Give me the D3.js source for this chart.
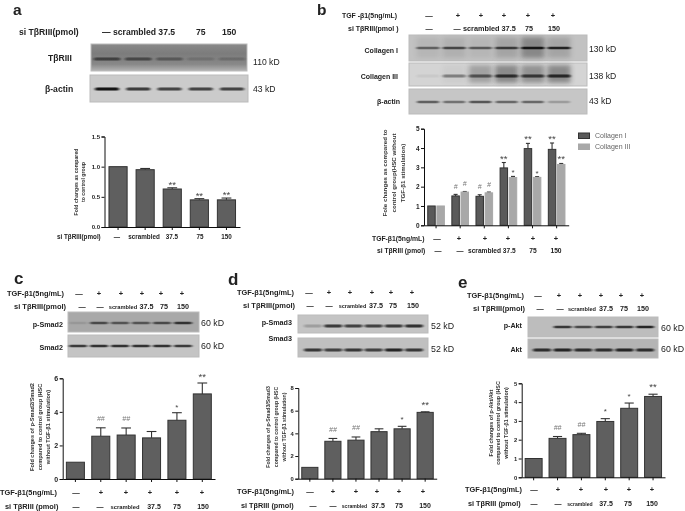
<!DOCTYPE html>
<html><head><meta charset="utf-8">
<script src="https://cdn.jsdelivr.net/npm/d3@7"></script>
<style>
html,body{margin:0;padding:0;background:#fff}
svg{display:block}
text{font-family:"Liberation Sans",Arial,sans-serif;fill:#222}
</style></head><body>
<svg id="c" width="685" height="511"></svg>
<script>
// ---------- data ----------
const groupsA = ["—","scrambled","37.5","75","150"];
const valuesA = [1,0.95,0.63,0.45,0.45];
const errorsA = [0,0.02,0.02,0.02,0.03];
const marksA  = ["","","**","**","**"];

const groupsSix = ["ctrl","tgf","scrambled","37.5","75","150"];
const collagenI   = [1,1.52,1.5,2.97,3.97,3.93];
const collagenIErr= [0,0.08,0.08,0.28,0.27,0.33];
const collagenIII = [1,1.72,1.68,2.47,2.48,3.15];
const collagenIIIErr=[0,0.03,0.04,0.06,0.04,0.05];
const marksCol1 = ["","#","#","**","**","**"];
const marksCol3 = ["","#","#","*","*","**"];

const valuesC = [1,2.55,2.62,2.45,3.5,5.07];
const errorsC = [0,0.5,0.42,0.38,0.45,0.65];
const marksC  = ["","##","##","","*","**"];

const valuesD = [1,3.3,3.4,4.15,4.4,5.85];
const errorsD = [0,0.25,0.28,0.25,0.22,0.05];
const marksD  = ["","##","##","","*","**"];

const valuesE = [1,2.07,2.27,2.97,3.67,4.3];
const errorsE = [0,0.1,0.07,0.15,0.28,0.12];
const marksE  = ["","##","##","*","*","**"];

const tgfMarks = ["—","+","+","+","+","+"];
const siMarks  = ["—","—","scrambled","37.5","75","150"];

// blot band strengths, lane by lane (0-1), and smear above the bands
const bandsTbr3   = [0.55,0.5,0.35,0.15,0.18];
const bandsActinA = [0.95,0.75,0.7,0.7,0.7];
const bandsCol1   = [0.5,0.65,0.55,0.7,0.95,0.85];
const smearCol1   = [0.08,0.12,0.08,0.2,0.4,0.2];
const bandsCol3   = [0.05,0.4,0.55,0.75,0.7,0.8];
const smearCol3   = [0,0.04,0.3,0.45,0.4,0.45];
const bandsActinB = [0.55,0.45,0.6,0.5,0.5,0.22];
const bandsPS2    = [0.1,0.6,0.55,0.55,0.6,0.75];
const bandsS2     = [0.75,0.8,0.8,0.8,0.8,0.75];
const bandsPS3    = [0.2,0.75,0.7,0.7,0.75,0.8];
const bandsS3     = [0.75,0.7,0.75,0.7,0.85,0.75];
const bandsPAkt   = [0,0.75,0.65,0.7,0.75,0.85];
const bandsAkt    = [0.8,0.85,0.8,0.8,0.85,0.8];

// ---------- helpers ----------
const svg = d3.select("#c");
const defs = svg.append("defs");
defs.append("filter").attr("id","soft").attr("x","-5%").attr("y","-5%").attr("width","110%").attr("height","110%")
  .append("feGaussianBlur").attr("stdDeviation",0.4);
const bf = defs.append("filter").attr("id","band").attr("x","-20%").attr("y","-100%").attr("width","140%").attr("height","300%");
bf.append("feGaussianBlur").attr("stdDeviation","1.6 0.7");
const sf = defs.append("filter").attr("id","smear").attr("x","-30%").attr("y","-50%").attr("width","160%").attr("height","200%");
sf.append("feGaussianBlur").attr("stdDeviation","2.5 2");
const g0 = defs.append("linearGradient").attr("id","tbr").attr("x1",0).attr("x2",0).attr("y1",0).attr("y2",1);
[[0,"#8a8a8a"],[0.35,"#7c7c7c"],[0.75,"#888"],[1,"#b5b5b5"]].forEach(s=>g0.append("stop").attr("offset",s[0]).attr("stop-color",s[1]));

const root = svg.append("g").attr("filter","url(#soft)");
root.append("rect").attr("width",685).attr("height",511).attr("fill","#fff");

function label(t,x,y,size,opt={}){
  return root.append("text").attr("x",x).attr("y",y).attr("font-size",size)
    .attr("font-weight",opt.weight||"bold").attr("text-anchor",opt.anchor||"start")
    .style("fill",opt.fill||"#222").text(t);
}
function rotated(lines,xs,cy,size){
  lines.forEach((l,i)=>root.append("text").attr("transform",`translate(${xs[i]},${cy}) rotate(-90)`)
    .attr("text-anchor","middle").attr("font-size",size).attr("font-weight","bold").style("fill","#333").text(l));
}
function marksRow(list,xs,y,size,sizes){
  list.forEach((t,i)=>{ if(t) label(t,xs[i],y,(sizes&&sizes[i])||size,{anchor:"middle"}); });
}
function blot(x0,x1,y0,y1,lanes,bands,bandY,o={}){
  const s = d3.scalePoint().domain(d3.range(bands.length)).range(lanes);
  const g = root.append("g");
  g.append("rect").attr("x",x0).attr("y",y0).attr("width",x1-x0).attr("height",y1-y0)
    .attr("fill",o.bg||"#c9c9c9").attr("stroke","#bbb").attr("stroke-width",1);
  const w = o.bw||((lanes[1]-lanes[0])/(bands.length-1)*0.85);
  if(o.smear){
    g.selectAll(null).data(o.smear).join("rect").attr("x",(d,i)=>s(i)-w/2).attr("width",w)
      .attr("y",y0+2).attr("height",y1-y0-5).attr("fill","#333").attr("opacity",d=>d).attr("filter","url(#smear)");
  }
  g.selectAll(null).data(bands).join("rect")
    .attr("x",(d,i)=>s(i)-w/2).attr("width",w)
    .attr("y",bandY-(o.bh||3)/2).attr("height",o.bh||3).attr("rx",1.5)
    .attr("fill","#0c0c0c").attr("opacity",d=>d).attr("filter","url(#band)");
}
function chart(o){
  const xx = d3.scaleBand().domain(o.groups).range(o.xr).padding(0);
  const step = xx.step();
  const y = d3.scaleLinear().domain([0,o.max]).range(o.yr);
  const g = root.append("g");
  const bw = step*(1-o.pad);
  const ser = o.series;
  ser.forEach((s,k)=>{
    const off = ser.length===1 ? 0 : (k===0?-step*0.19:step*0.19);
    const w = ser.length===1 ? bw : step*0.31;
    const cx = d=>xx(d)+step/2+off;
    g.selectAll(null).data(s.values).join("line")
      .attr("x1",(d,i)=>cx(o.groups[i])).attr("x2",(d,i)=>cx(o.groups[i]))
      .attr("y1",d=>y(d)).attr("y2",(d,i)=>y(d+s.errors[i]))
      .attr("stroke","#333").attr("stroke-width",1.1);
    g.selectAll(null).data(s.values).join("line")
      .attr("x1",(d,i)=>cx(o.groups[i])-w*0.27).attr("x2",(d,i)=>cx(o.groups[i])+w*0.27)
      .attr("y1",(d,i)=>y(d+s.errors[i])).attr("y2",(d,i)=>y(d+s.errors[i]))
      .attr("stroke","#333").attr("stroke-width",1.1)
      .attr("opacity",(d,i)=>s.errors[i]?1:0);
    g.selectAll(null).data(s.values).join("rect")
      .attr("x",(d,i)=>cx(o.groups[i])-w/2).attr("width",w)
      .attr("y",d=>y(d)).attr("height",d=>y(0)-y(d))
      .attr("fill",s.fill).attr("stroke",s.stroke).attr("stroke-width",1);
    s.marks.forEach((m,i)=>{
      if(!m) return;
      const top = y(s.values[i]+s.errors[i]);
      const hash = m[0]==="#";
      const single = m==="*";
      g.append("text").attr("x",cx(o.groups[i]))
        .attr("y",top-(hash?(o.hashGap||6):(o.starGap||0)))
        .attr("text-anchor","middle").attr("font-size",hash?7:(single?8:(o.starSize||9.5)))
        .attr("font-style",hash?"italic":"normal").style("fill",hash?"#777":"#444").text(m);
    });
  });
  const ax = g.append("g").attr("transform",`translate(${o.xr[0]},0)`)
    .call(d3.axisLeft(y).tickValues(o.ticks).tickSize(3).tickFormat(o.fmt||d3.format("d")));
  const bx = g.append("g").attr("transform",`translate(0,${o.yr[0]})`)
    .call(d3.axisBottom(xx).tickSize(3).tickSizeOuter(0).tickFormat(""));
  [ax,bx].forEach(a=>{
    a.selectAll("path,line").attr("stroke","#111").attr("stroke-width",1);
    a.selectAll("text").attr("font-size",o.tickSize||6.5).attr("font-weight","bold")
      .style("font-family",'"Liberation Sans",Arial,sans-serif').style("fill","#222").attr("x",-4.5);
  });
}

// ---------- panel letters ----------
label("a",13,14.5,15.5); label("b",317,14.5,15.5); label("c",14,284,17); label("d",228,285,17); label("e",458,288,17);

// ---------- panel a ----------
label("si TβRIII(pmol)",19,35,8.6);
label("— scrambled 37.5",102,35,8.6);
label("75",196,35,8.6); label("150",222,35,8.6);
blot(91,247,44,71,[107,232],bandsTbr3,59,{bg:"url(#tbr)"});
blot(90,248,75,102,[107,232],bandsActinA,89,{bg:"#cbcbcb",bw:24});
label("TβRIII",48,61,8.6); label("β-actin",45,92,8.6);
label("110 kD",253,65,8.6,{weight:"normal"}); label("43 kD",253,92,8.6,{weight:"normal"});
chart({groups:groupsA,xr:[104.5,240],yr:[227,136.5],max:1.5,pad:0.33,ticks:[0,0.5,1,1.5],fmt:d3.format(".1f"),tickSize:6,starGap:0,starSize:9.5,
  series:[{values:valuesA,errors:errorsA,marks:marksA,fill:"#5f5f5f",stroke:"#333"}]});
rotated(["Fold changes as compared","to control group"],[78,85],182,5.2);
label("si TβRIII(pmol)",57,239,6.3);
marksRow(groupsA,[117,144,172,200,226.5],239,6.3);

// ---------- panel b ----------
label("TGF -β1(5ng/mL)",342,18,6.9);
marksRow(tgfMarks,[429,458,481,504,528,553],18,7.5);
label("si TβRIII(pmol )",348,31,7);
marksRow(["—","—"],[429,457],31,7.2);
label("scrambled 37.5",463,31,7.3);
marksRow(["75","150"],[529,554],31,7.2);
blot(409,587,35,61,[428,559],bandsCol1,48,{bg:"#c2c2c2",smear:smearCol1,bw:23,bh:2.5});
blot(409,587,63,86,[428,559],bandsCol3,76,{bg:"#d4d4d4",smear:smearCol3,bw:23,bh:3});
blot(409,587,89,114,[428,559],bandsActinB,102,{bg:"#c6c6c6",bw:22,bh:2.5});
label("Collagen I",398,53,7,{anchor:"end"});
label("Collagen III",398,79,7,{anchor:"end"});
label("β-actin",400,104,7,{anchor:"end"});
label("130 kD",589,52,8.6,{weight:"normal"});
label("138 kD",589,79,8.6,{weight:"normal"});
label("43 kD",589,104,8.6,{weight:"normal"});
chart({groups:groupsSix,xr:[424,568.7],yr:[225.3,128.7],max:5,pad:0.3,ticks:[0,1,2,3,4,5],tickSize:6.5,starGap:1,starSize:9.5,hashGap:5.5,
  series:[{values:collagenI,errors:collagenIErr,marks:marksCol1,fill:"#5a5a5a",stroke:"#333"},
          {values:collagenIII,errors:collagenIIIErr,marks:marksCol3,fill:"#a8a8a8",stroke:"#a8a8a8"}]});
rotated(["Fole changes as compared to","control group(HSC without","TGF-β1 stimulation)"],[387,396,405],173,6.2);
root.append("rect").attr("x",578.5).attr("y",133).attr("width",11).attr("height",5.5).attr("fill","#5a5a5a").attr("stroke","#333");
root.append("rect").attr("x",578.5).attr("y",144).attr("width",11).attr("height",5.5).attr("fill","#a8a8a8").attr("stroke","#a8a8a8");
label("Collagen I",595,138,7,{weight:"normal",fill:"#666"});
label("Collagen III",595,149,7,{weight:"normal",fill:"#666"});
label("TGF-β1(5ng/mL)",372,241,6.8);
marksRow(tgfMarks,[437,459,485,508,533,556],241,7.5);
label("si TβRIII (pmol)",377,253,6.7);
marksRow(["—","—"],[438,460],253,7);
label("scrambled 37.5",468,253,6.6);
marksRow(["75","150"],[533,556],253,6.7);

// ---------- panel c ----------
label("TGF-β1(5ng/mL)",7,296,7.4);
marksRow(tgfMarks,[79,99,121,142,161,182],296,7.5);
label("si TβRIII(pmol)",14,309,7.5);
marksRow(siMarks,[82,100,123,146.5,164,183],309,7.2,{2:5.7});
blot(68,199,312,332,[78,183],bandsPS2,323,{bg:"#a8a8a8",bw:18,bh:2.5});
blot(68,199,335,357,[78,183],bandsS2,346,{bg:"#c4c4c4",bw:18,bh:2.5});
label("p-Smad2",63,327,7.2,{anchor:"end"});
label("Smad2",63,350,7.2,{anchor:"end"});
label("60 kD",201,326,8.8,{weight:"normal"});
label("60 kD",201,349,8.8,{weight:"normal"});
chart({groups:groupsSix,xr:[62.7,215],yr:[479,378.3],max:6,pad:0.29,ticks:[0,2,4,6],tickSize:7,hashGap:6.5,starGap:3,
  series:[{values:valuesC,errors:errorsC,marks:marksC,fill:"#5f5f5f",stroke:"#333"}]});
rotated(["Fold changes of p-Smad2/Smad2","compared to control group (HSC","without TGF-β1 stimulation)"],[34,42,50],427,5.6);
label("TGF-β1(5ng/mL)",0,495,7.4);
marksRow(tgfMarks,[76,101,126,150,177,202],495,7.5);
label("si TβRIII (pmol)",5,509,7.4);
marksRow(siMarks,[76,100,125,154,177,203],509,7,{2:5.8});

// ---------- panel d ----------
label("TGF-β1(5ng/mL)",237,295,7.4);
marksRow(tgfMarks,[309,329,350,372,391,412],295,7.5);
label("si TβRIII(pmol)",243,308,7.5);
marksRow(siMarks,[310,329,352.5,376,393,413],308,7.2,{2:5.5});
blot(298,428,315,333,[313,414],bandsPS3,326,{bg:"#c4c4c4",bw:18,bh:2.8});
blot(298,428,338,357,[313,414],bandsS3,350,{bg:"#c0c0c0",bw:18,bh:2.8});
label("p-Smad3",292,325,7.2,{anchor:"end"});
label("Smad3",292,341,7.2,{anchor:"end"});
label("52 kD",431,329,8.8,{weight:"normal"});
label("52 kD",431,352,8.8,{weight:"normal"});
chart({groups:groupsSix,xr:[298.3,436.7],yr:[478.7,388],max:8,pad:0.3,ticks:[0,2,4,6,8],tickSize:5.8,hashGap:6.5,starGap:4,
  series:[{values:valuesD,errors:errorsD,marks:marksD,fill:"#5f5f5f",stroke:"#333"}]});
rotated(["Fold changes of p-Smad3/Smad3","compared to control group (HSC","without TGF-β1 stimulation)"],[270,278,286],427,5.2);
label("TGF-β1(5ng/mL)",237,494,7.4);
marksRow(tgfMarks,[310,333,356,377,399,423],494,7.5);
label("si TβRIII (pmol)",241,508,7.3);
marksRow(siMarks,[313,333,354.5,378,399,425],508,7,{2:5.1});

// ---------- panel e ----------
label("TGF-β1(5ng/mL)",467,298,7.4);
marksRow(tgfMarks,[538,559,580,601,621,642],298,7.5);
label("si TβRIII(pmol)",473,311,7.5);
marksRow(siMarks,[540,560,582,606,624,643],311,7.2,{2:5.6});
blot(528,658,317,337,[542,645],bandsPAkt,327,{bg:"#bdbdbd",bw:18,bh:2.5});
blot(528,658,339,358,[542,645],bandsAkt,350,{bg:"#b4b4b4",bw:18,bh:3});
label("p-Akt",522,328,7.2,{anchor:"end"});
label("Akt",522,352,7.2,{anchor:"end"});
label("60 kD",661,331,8.8,{weight:"normal"});
label("60 kD",661,352,8.8,{weight:"normal"});
chart({groups:groupsSix,xr:[521.7,665],yr:[477.3,383.3],max:5,pad:0.29,ticks:[0,1,2,3,4,5],tickSize:5.8,hashGap:6.5,starGap:4.5,
  series:[{values:valuesE,errors:errorsE,marks:marksE,fill:"#5f5f5f",stroke:"#333"}]});
rotated(["Fold changes of p-Akt/Akt","compared to control group (HSC","without TGF-β1 stimulation)"],[493,500,508],423,5.4);
label("TGF-β1(5ng/mL)",465,492,7.4);
marksRow(tgfMarks,[534,558,581,606,629,652],492,7.5);
label("si TβRIII (pmol)",468,506,7.3);
marksRow(siMarks,[534,558,580,606,628,652],506,7,{2:5.1});
</script>
</body></html>
